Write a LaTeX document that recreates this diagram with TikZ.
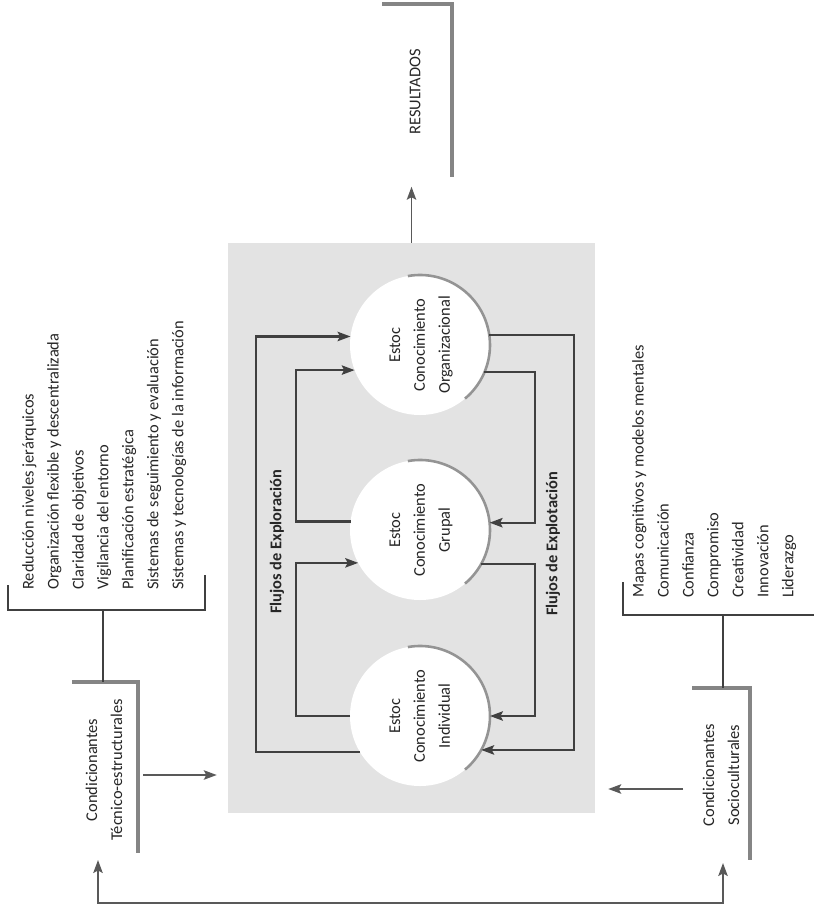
\documentclass[tikz,border=0pt]{standalone}
\usepackage{fontspec}
\setmainfont{Carlito}
\usepackage{tikz}
\usetikzlibrary{arrows.meta,positioning,calc}

\begin{document}
\begin{tikzpicture}[x=0.03cm, y=-0.03cm,
		>={Stealth[length=11pt, width=8pt, inset=2pt]},
		stockbg/.style={fill=black!11, minimum width=11.01cm, minimum height=17.1cm, inner sep=0pt},
		stocknode/.style={circle, fill=white, minimum size=4.2cm, inner sep=0pt, outer sep=0pt,
				text=black!85, font=\fontsize{14}{21.3}\selectfont},
		rim/.style={line width=2.2pt, draw=black!42},
		txt/.style={rotate=90, inner sep=0pt, text=black!85, font=\fontsize{14}{21.3}\selectfont},
		itemlist/.style={txt, anchor=north west, align=left},
		flowlabel/.style={txt, font=\fontsize{14}{21.3}\selectfont\bfseries},
		flow/.style={->, line width=1.8pt, draw=black!75},
		wire/.style={->, line width=1.5pt, draw=black!65},
		heavybar/.style={line width=3.2pt, draw=black!48},
		thinbar/.style={line width=1.4pt, draw=black!75}]

		\useasboundingbox (0,0) rectangle (814,917);

		% ── background of the stocks ──
		\node[stockbg] (stock) at (411.5,528) {};

		% ── knowledge stocks ──
		\node[stocknode] (org) at (420,345) {\rotatebox{90}{\begin{tabular}{@{}c@{}}Estoc\\Conocimiento\\Organizacional\end{tabular}}};
		\node[stocknode] (grp) at (420,530) {\rotatebox{90}{\begin{tabular}{@{}c@{}}Estoc\\Conocimiento\\Grupal\end{tabular}}};
		\node[stocknode] (ind) at (420,716) {\rotatebox{90}{\begin{tabular}{@{}c@{}}Estoc\\Conocimiento\\Individual\end{tabular}}};
		\foreach \s in {org,grp,ind}
			\draw[rim] ([shift={(100:2.1cm)}]\s.center) arc[start angle=100, end angle=-50, radius=2.1cm];

		% ── Flujos de Exploración ──
		\coordinate (exo) at (256,0);
		\coordinate (exi) at (296,0);
		\draw[flow] (ind.211) -- (ind.211 -| exo) |- (org.173);
		\draw[flow] (ind.180) -- (ind.180 -| exi) |- (grp.208);
		\draw[flow] (grp.173) -- (grp.173 -| exi) |- (org.201);
		\node[flowlabel] (explabel) at (277,542) {Flujos de Exploración};

		% ── Flujos de Explotación ──
		\coordinate (xpi) at (535,0);
		\coordinate (xpo) at (574,0);
		\draw[flow] (org.8) -- (org.8 -| xpo) |- (ind.331);
		\draw[flow] (org.337) -- (org.337 -| xpi) |- (grp.6);
		\draw[flow] (grp.331) -- (grp.331 -| xpi) |- (ind.0);
		\node[flowlabel] (xplabel) at (553,544) {Flujos de Explotación};

		% ── Resultados ──
		\node[txt] (res) at (415,92) {RESULTADOS};
		\draw[heavybar] (382,4) -- (452,4) -- (452,177);
		\draw[wire] (stock.north) -- ++(0,-56);

		% ── Condicionantes técnico-estructurales ──
		\node[itemlist] (teclist) at (22,590) {Reducción niveles jerárquicos\\Organización flexible y descentralizada\\Claridad de objetivos\\Vigilancia del entorno\\Planificación estratégica\\Sistemas de seguimiento y evaluación\\Sistemas y tecnologías de la información};
		\draw[thinbar] (8,585) -- (8,610) -- (205,610) -- (205,575);
		\node[txt, align=center] (ctec) at (104,770) {Condicionantes\\Técnico-estructurales};
		\draw[heavybar] (72,682) -- (138,682) -- (138,853);
		\draw[thinbar] (103,610) -- (103,682);
		\coordinate (tecin) at (143,775);
		\draw[wire, shorten >=0.33cm] (tecin) -- (tecin -| stock.west);

		% ── Condicionantes socioculturales ──
		\node[itemlist] (soclist) at (632,598) {Mapas cognitivos y modelos mentales\\Comunicación\\Confianza\\Compromiso\\Creatividad\\Innovación\\Liderazgo};
		\draw[thinbar] (623,582) -- (623,615) -- (814,615);
		\node[txt, align=center] (csoc) at (721,775) {Condicionantes\\Socioculturales};
		\draw[heavybar] (692,688) -- (750,688) -- (750,860);
		\draw[thinbar] (723,615) -- (723,688);
		\coordinate (socin) at (683,789);
		\draw[wire, shorten >=0.39cm] (socin) -- (socin -| stock.east);

		% ── feedback between both ──
		\coordinate (tecback) at (98,860);
		\coordinate (socback) at (723,863);
		\draw[wire, <->] (tecback) -- ++(0,43) -| (socback);

	\end{tikzpicture}
\end{document}
